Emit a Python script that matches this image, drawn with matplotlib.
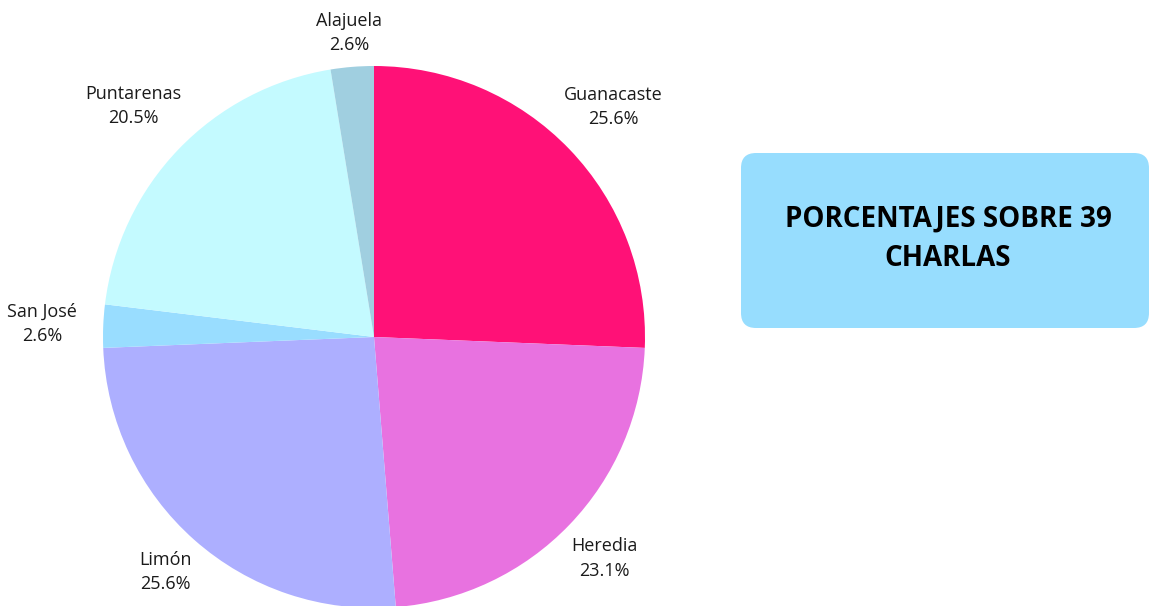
import matplotlib.pyplot as plt
import matplotlib.patches as patches
import numpy as np

provincias = ["Guanacaste", "Heredia", "Limón", "San José", "Puntarenas", "Alajuela"]
charlas = [10, 9, 10, 1, 8, 1]
colores = ["#FF1177", "#E872E0", "#ADAFFF", "#99DDFF", "#C4FAFF", "#A0CFE0"]
titulo = "PORCENTAJES SOBRE 39\nCHARLAS"

# radial distance of each label (in pie radii)
dist_etiquetas = [1.225, 1.18, 1.16, 1.225, 1.23, 1.125]

W, H = 1149, 606
fig = plt.figure(figsize=(W / 100, H / 100), dpi=100)
ax = fig.add_axes([0, 0, 1, 1])

cx, cy, r = 374, H - 337, 271
total = sum(charlas)
etiquetas = [f"{p}\n{v / total * 100:.1f}%" for p, v in zip(provincias, charlas)]

wedges, _ = ax.pie(charlas, colors=colores, startangle=90, counterclock=False,
                   center=(cx, cy), radius=r, frame=True)

for w, lab, d in zip(wedges, etiquetas, dist_etiquetas):
    ang = np.deg2rad((w.theta1 + w.theta2) / 2)
    ax.text(cx + d * r * np.cos(ang), cy + d * r * np.sin(ang), lab,
            ha='center', va='center', multialignment='center',
            fontsize=13, family='Open Sans', color='#1a1a1a', linespacing=1.45)
ax.axis('off')
ax.set_xlim(0, W)
ax.set_ylim(0, H)
ax.set_aspect('equal')

caja = patches.FancyBboxPatch((741 + 15, H - 328 + 15), 408 - 30, 175 - 30,
                              boxstyle="round,pad=15", facecolor='#97DDFE',
                              edgecolor='none')
ax.add_patch(caja)
ax.text(948, H - 239, titulo, ha='center', va='center', fontsize=20,
        fontweight='bold', family='Open Sans', color='black', linespacing=1.45)

fig.savefig("out.png", dpi=100)
